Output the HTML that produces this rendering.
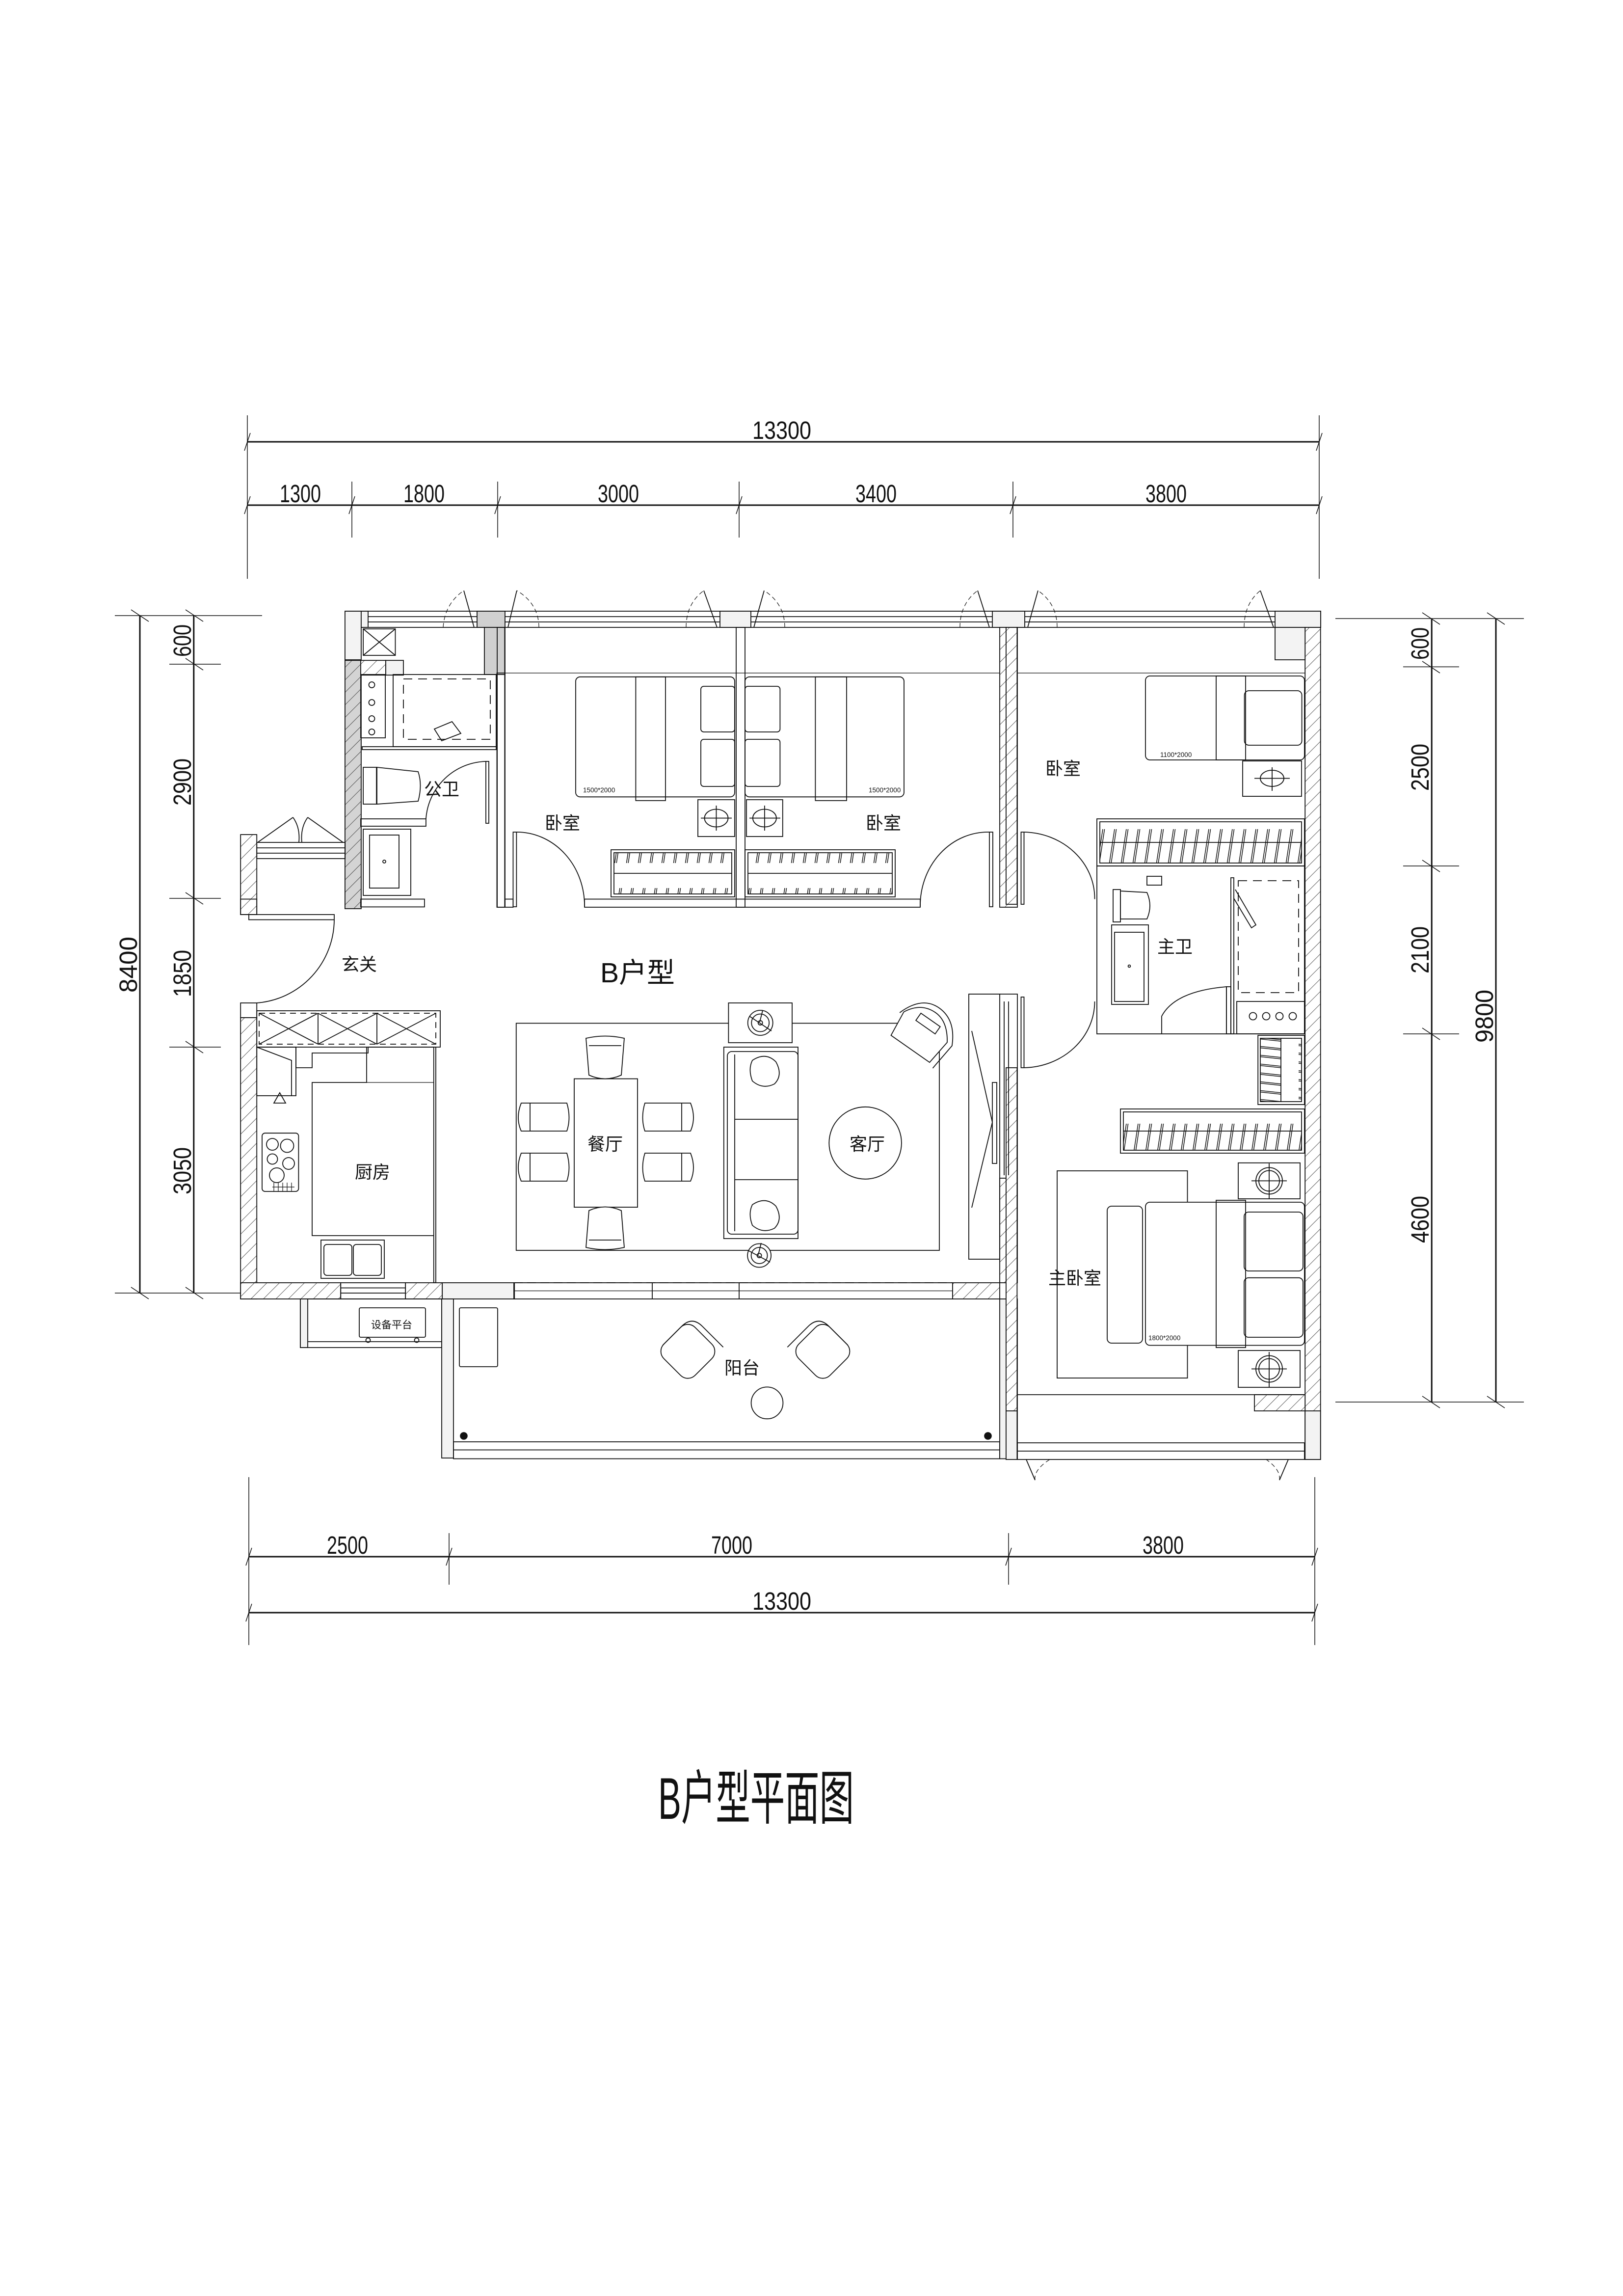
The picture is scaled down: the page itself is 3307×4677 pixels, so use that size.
<!DOCTYPE html>
<html><head><meta charset="utf-8"><style>
html,body{margin:0;padding:0;background:#fff}
svg{display:block}
text{font-family:"Liberation Sans","Noto Sans CJK SC",sans-serif;fill:#111}
</style></head><body>
<svg width="3307" height="4677" viewBox="0 0 1102.33 1559" xmlns="http://www.w3.org/2000/svg">
<defs>
<pattern id="h" patternUnits="userSpaceOnUse" width="6" height="6" patternTransform="rotate(45)">
<rect width="6" height="6" fill="#fff"/><line x1="0" y1="0" x2="0" y2="6" stroke="#222" stroke-width="0.5"/></pattern>
<pattern id="hg" patternUnits="userSpaceOnUse" width="6" height="6" patternTransform="rotate(45)">
<rect width="6" height="6" fill="#d4d4d4"/><line x1="0" y1="0" x2="0" y2="6" stroke="#222" stroke-width="0.5"/></pattern>
<pattern id="hang" patternUnits="userSpaceOnUse" width="8" height="40">
<line x1="1.5" y1="26" x2="5" y2="3" stroke="#111" stroke-width="0.5"/><line x1="2.7" y1="26" x2="6.2" y2="3" stroke="#111" stroke-width="0.5"/></pattern>
<pattern id="hangv" patternUnits="userSpaceOnUse" width="40" height="6">
<line x1="2" y1="1" x2="30" y2="4" stroke="#111" stroke-width="0.5"/><line x1="2" y1="2" x2="30" y2="5" stroke="#111" stroke-width="0.5"/></pattern>
</defs>
<g fill="none" stroke="#111" stroke-width="0.6">

<!-- ===== DIMENSIONS ===== -->
<g stroke-width="0.5">
<line x1="168" y1="300" x2="896" y2="300" stroke-width="1"/>
<line x1="168" y1="343" x2="896" y2="343" stroke-width="1"/>
<line x1="168" y1="282" x2="168" y2="393"/><line x1="896" y1="282" x2="896" y2="393"/>
<line x1="239" y1="327" x2="239" y2="365"/><line x1="338" y1="327" x2="338" y2="365"/>
<line x1="502" y1="327" x2="502" y2="365"/><line x1="688" y1="327" x2="688" y2="365"/>
<path d="M166 306L170 294M894 306L898 294M166 349L170 337M237 349L241 337M336 349L340 337M500 349L504 337M686 349L690 337M894 349L898 337"/>
<line x1="169" y1="1057" x2="893" y2="1057" stroke-width="1"/>
<line x1="169" y1="1095" x2="893" y2="1095" stroke-width="1"/>
<line x1="169" y1="1003" x2="169" y2="1117"/><line x1="893" y1="1003" x2="893" y2="1117"/>
<line x1="305" y1="1041" x2="305" y2="1076"/><line x1="685" y1="1041" x2="685" y2="1076"/>
<path d="M167 1063L171 1051M303 1063L307 1051M683 1063L687 1051M891 1063L895 1051M167 1101L171 1089M891 1101L895 1089"/>
<line x1="95" y1="418" x2="95" y2="878" stroke-width="1"/>
<line x1="131.6" y1="418" x2="131.6" y2="878" stroke-width="1"/>
<line x1="78" y1="418" x2="178" y2="418"/><line x1="78" y1="878" x2="190" y2="878"/>
<line x1="115" y1="451" x2="150" y2="451"/><line x1="115" y1="610" x2="150" y2="610"/><line x1="115" y1="711" x2="150" y2="711"/>
<path d="M89 414L101 422M126 414L138 422M126 447L138 455M126 606L138 614M126 707L138 715M126 874L138 882M89 874L101 882"/>
<line x1="972.4" y1="420" x2="972.4" y2="952" stroke-width="1"/>
<line x1="1016" y1="420" x2="1016" y2="952" stroke-width="1"/>
<line x1="907" y1="420" x2="1035" y2="420"/><line x1="907" y1="952" x2="1035" y2="952"/>
<line x1="953" y1="452.8" x2="991" y2="452.8"/><line x1="953" y1="588" x2="991" y2="588"/><line x1="953" y1="702" x2="991" y2="702"/>
<path d="M966 416L978 424M966 449L978 457M966 584L978 592M966 698L978 706M966 948L978 956M1010 416L1022 424M1010 948L1022 956"/>
</g>
<g stroke="none" font-size="17" style="fill:#333">
<text x="531" y="298" text-anchor="middle" textLength="40" lengthAdjust="spacingAndGlyphs">13300</text>
<text x="204" y="341" text-anchor="middle" textLength="28" lengthAdjust="spacingAndGlyphs">1300</text>
<text x="288" y="341" text-anchor="middle" textLength="28" lengthAdjust="spacingAndGlyphs">1800</text>
<text x="420" y="341" text-anchor="middle" textLength="28" lengthAdjust="spacingAndGlyphs">3000</text>
<text x="595" y="341" text-anchor="middle" textLength="28" lengthAdjust="spacingAndGlyphs">3400</text>
<text x="792" y="341" text-anchor="middle" textLength="28" lengthAdjust="spacingAndGlyphs">3800</text>
<text x="236" y="1055" text-anchor="middle" textLength="28" lengthAdjust="spacingAndGlyphs">2500</text>
<text x="497" y="1055" text-anchor="middle" textLength="28" lengthAdjust="spacingAndGlyphs">7000</text>
<text x="790" y="1055" text-anchor="middle" textLength="28" lengthAdjust="spacingAndGlyphs">3800</text>
<text x="531" y="1093" text-anchor="middle" textLength="40" lengthAdjust="spacingAndGlyphs">13300</text>
<text transform="translate(93,655) rotate(-90)" text-anchor="middle" textLength="38" lengthAdjust="spacingAndGlyphs">8400</text>
<text transform="translate(129.6,435) rotate(-90)" text-anchor="middle" textLength="22" lengthAdjust="spacingAndGlyphs">600</text>
<text transform="translate(129.6,531) rotate(-90)" text-anchor="middle" textLength="32" lengthAdjust="spacingAndGlyphs">2900</text>
<text transform="translate(129.6,661) rotate(-90)" text-anchor="middle" textLength="32" lengthAdjust="spacingAndGlyphs">1850</text>
<text transform="translate(129.6,795) rotate(-90)" text-anchor="middle" textLength="32" lengthAdjust="spacingAndGlyphs">3050</text>
<text transform="translate(970.4,437) rotate(-90)" text-anchor="middle" textLength="22" lengthAdjust="spacingAndGlyphs">600</text>
<text transform="translate(970.4,521) rotate(-90)" text-anchor="middle" textLength="32" lengthAdjust="spacingAndGlyphs">2500</text>
<text transform="translate(970.4,645) rotate(-90)" text-anchor="middle" textLength="32" lengthAdjust="spacingAndGlyphs">2100</text>
<text transform="translate(970.4,828) rotate(-90)" text-anchor="middle" textLength="32" lengthAdjust="spacingAndGlyphs">4600</text>
<text transform="translate(1014,690) rotate(-90)" text-anchor="middle" textLength="36" lengthAdjust="spacingAndGlyphs">9800</text>
</g>

<!-- ===== WALLS ===== -->
<rect x="235" y="415" width="662" height="11"/>
<line x1="250" y1="418.7" x2="866" y2="418.7"/><line x1="250" y1="422.3" x2="866" y2="422.3"/>
<rect x="235" y="415" width="15" height="11" fill="#f3f3f3"/>
<rect x="324" y="415" width="19" height="11" fill="#d0d0d0"/>
<rect x="489" y="415" width="21" height="11" fill="#f3f3f3"/>
<rect x="674" y="415" width="22" height="11" fill="#f3f3f3"/>
<rect x="866" y="415" width="31" height="11" fill="#f3f3f3"/>
<path d="M322 426L315 401M345 426L351 401M487 426L478 401M512 426L519 401M672 426L664 401M698 426L705 401M865 426L856 401"/>
<path d="M301 426Q302 410 315 401M366 426Q366 410 351 401M466 426Q466 410 478 401M533 426Q533 410 519 401M652 426Q652 410 664 401M718 426Q718 410 705 401M845 426Q845 410 856 401" stroke-dasharray="3 2" stroke-width="0.4"/>
<rect x="234.3" y="415" width="11" height="33" fill="#f3f3f3"/>
<rect x="234.3" y="448.4" width="11" height="168.6" fill="url(#hg)"/>
<rect x="245" y="448.4" width="17" height="10" fill="url(#h)"/>
<rect x="262" y="448.4" width="12" height="10" fill="#f3f3f3"/>
<rect x="329" y="426" width="14" height="32" fill="#d0d0d0"/>
<line x1="343" y1="457" x2="887" y2="457" stroke-width="0.4"/>
<rect x="246.7" y="427" width="21.8" height="18"/><path d="M246.7 427L268.5 445M268.5 427L246.7 445"/>
<rect x="337.7" y="426" width="5.1" height="190"/>
<rect x="163.4" y="566.7" width="11" height="54.3" fill="url(#h)"/>
<rect x="174.4" y="572" width="60" height="11"/><line x1="174.4" y1="575.7" x2="234.3" y2="575.7"/><line x1="174.4" y1="579.3" x2="234.3" y2="579.3"/>
<path d="M175 572L199 555M233 572L209 555M199 555Q204 562 203 572M209 555Q204 562 205 572"/>
<rect x="163.4" y="610.5" width="11" height="10.5"/>
<rect x="169" y="621" width="58" height="3.5"/>
<path d="M227 624.5A57 57 0 0 1 174.4 681"/>
<rect x="163.4" y="681" width="11" height="10" />
<rect x="163.4" y="691" width="11" height="191" fill="url(#h)"/>
<rect x="163.4" y="871" width="68" height="11" fill="url(#h)"/>
<rect x="231.4" y="871" width="44" height="11"/><line x1="231.4" y1="874.5" x2="275.4" y2="874.5"/><line x1="231.4" y1="878" x2="275.4" y2="878"/>
<rect x="275.4" y="871" width="25" height="11" fill="url(#h)"/>
<rect x="300.4" y="871" width="49" height="11" fill="#f3f3f3"/>
<rect x="349" y="871" width="298" height="11"/>
<line x1="349" y1="871" x2="647" y2="871" stroke-dasharray="6 3"/>
<line x1="349" y1="876.5" x2="647" y2="876.5" stroke-width="0.4"/>
<line x1="443" y1="871" x2="443" y2="882"/><line x1="502" y1="871" x2="502" y2="882"/>
<rect x="647" y="871" width="32" height="11" fill="url(#h)"/>
<rect x="204" y="882" width="96" height="33"/>
<rect x="204" y="882" width="5" height="33" fill="#f3f3f3"/>
<line x1="209" y1="911" x2="300" y2="911"/>
<rect x="244" y="888" width="45" height="20" rx="1"/>
<text x="266" y="902" stroke="none" font-size="7" text-anchor="middle">设备平台</text>
<circle cx="250" cy="910" r="1.5"/><circle cx="283" cy="910" r="1.5"/>
<rect x="300" y="882" width="8" height="108" fill="#f3f3f3"/>
<rect x="308" y="979" width="371" height="11.5"/><line x1="308" y1="984.5" x2="679" y2="984.5"/>
<rect x="679" y="882" width="12" height="108.5" fill="#f3f3f3"/>
<rect x="679" y="800" width="12" height="71" fill="url(#h)"/>
<rect x="312" y="888" width="26" height="40" rx="1"/>
<circle cx="315" cy="975" r="2.3" fill="#111"/><circle cx="671" cy="975" r="2.3" fill="#111"/>
<g transform="translate(470,919) rotate(45)"><rect x="-18" y="-14" width="30" height="30" rx="7"/><path d="M-18 10V-8Q-18 -18 -8 -18H12"/></g>
<g transform="translate(556,919) rotate(-45)"><rect x="-12" y="-14" width="30" height="30" rx="7"/><path d="M18 10V-8Q18 -18 8 -18H-12"/></g>
<circle cx="521" cy="952.6" r="10.8"/>

<rect x="337.5" y="457" width="5.5" height="159"/>
<rect x="343" y="610.5" width="5.5" height="5.5"/>
<rect x="348.5" y="565" width="2.3" height="50.7"/>
<rect x="397" y="610.5" width="228" height="5.5"/>
<rect x="500" y="426" width="6" height="190"/>
<rect x="672" y="565" width="2.3" height="50.7"/>
<rect x="679" y="426" width="12" height="190" fill="url(#h)"/>
<path d="M350.8 565A46 50 0 0 1 397 615.7M672 565A46 50 0 0 0 625 615.7"/>

<rect x="683.3" y="426" width="7.5" height="188" fill="url(#h)"/>
<rect x="683.3" y="725" width="7.5" height="250" fill="url(#h)"/>
<rect x="683.3" y="958" width="7.5" height="33" fill="#f3f3f3"/>
<rect x="693.5" y="565" width="2" height="49"/><rect x="693.5" y="677" width="2" height="48"/>
<path d="M695.5 565A49 45 0 0 1 743.5 610.5M695.5 725A49 45 0 0 0 743.5 680"/>
<rect x="886.4" y="426" width="10.5" height="565" fill="url(#h)"/>
<rect x="866" y="426" width="20.4" height="22" fill="#f3f3f3"/>
<rect x="852" y="947" width="34.4" height="11" fill="url(#h)"/>
<line x1="691" y1="947" x2="886" y2="947"/>
<rect x="691" y="979.7" width="195" height="11.3"/><line x1="691" y1="985.3" x2="886" y2="985.3"/>
<rect x="886.4" y="958" width="10.5" height="33" fill="#f3f3f3"/>
<path d="M697 991L703 1005M875 991L869 1005"/>
<path d="M703 1005Q702 998 713 991M869 1005Q870 998 860 991" stroke-width="0.4" stroke-dasharray="3 2"/>

<!-- A卫 -->
<rect x="245" y="458" width="16.7" height="43"/>
<circle cx="252.5" cy="465" r="2"/><circle cx="252.5" cy="477" r="2"/><circle cx="252.5" cy="488" r="2"/><circle cx="252.5" cy="497" r="2"/>
<rect x="267" y="458" width="70" height="49"/>
<rect x="274" y="461" width="59" height="41" stroke-dasharray="6 4"/>
<path d="M295 495L307 490L313 498L300 503Z"/>
<rect x="246" y="507" width="91" height="2"/>
<rect x="246.7" y="521" width="9" height="25"/><path d="M256 521L284 524Q287 533 284 544L256 546Z"/>
<rect x="245" y="556" width="44.3" height="5"/>
<rect x="330" y="517" width="2" height="42"/>
<path d="M330 517A42 42 0 0 0 289.3 556"/>
<rect x="246.7" y="563" width="32.3" height="45"/><rect x="251" y="567" width="20" height="36"/><circle cx="261" cy="585" r="1"/>
<rect x="245" y="610.5" width="43.3" height="5.3"/>
<text x="300" y="540" stroke="none" font-size="12" text-anchor="middle">公卫</text>

<!-- Bedrooms 1 & 2 -->
<rect x="391" y="459.6" width="108" height="81.5" rx="3"/>
<rect x="431.8" y="459.6" width="20.2" height="84"/>
<rect x="476" y="466" width="23" height="31" rx="2"/><rect x="476" y="502" width="23" height="32" rx="2"/>
<rect x="474" y="543" width="25" height="25"/><ellipse cx="486.5" cy="555.5" rx="8" ry="6"/><path d="M476 555.5H497M486.5 547V564"/>
<rect x="415" y="577" width="84" height="32"/><rect x="417" y="579" width="80" height="28" fill="url(#hang)"/>
<line x1="417" y1="593" x2="497" y2="593"/>
<rect x="506" y="459.6" width="108" height="81.5" rx="3"/>
<rect x="553.8" y="459.6" width="21.2" height="84"/>
<rect x="506" y="466" width="23.8" height="31" rx="2"/><rect x="506" y="502" width="23.8" height="32" rx="2"/>
<rect x="507" y="543" width="24.6" height="25"/><ellipse cx="519.3" cy="555.5" rx="8" ry="6"/><path d="M509 555.5H530M519.3 547V564"/>
<rect x="506" y="577" width="102" height="32"/><rect x="508" y="579" width="98" height="28" fill="url(#hang)"/>
<line x1="508" y1="593" x2="606" y2="593"/>
<g stroke="none"><text x="396" y="538" font-size="4.5">1500*2000</text><text x="590" y="538" font-size="4.5">1500*2000</text>
<text x="382" y="563" font-size="12" text-anchor="middle">卧室</text>
<text x="600" y="563" font-size="12" text-anchor="middle">卧室</text>
<text x="433" y="667" font-size="19" text-anchor="middle">B户型</text></g>

<!-- Bedroom 3 -->
<rect x="778" y="459" width="108" height="57" rx="3"/>
<rect x="826" y="459" width="20" height="57"/>
<rect x="845.2" y="469" width="39" height="37" rx="3"/>
<rect x="844" y="516.7" width="40" height="24"/><ellipse cx="864" cy="528.5" rx="8" ry="5.5"/><path d="M852 528.5H876M864 521V537"/>
<rect x="745" y="556" width="141" height="32"/><rect x="747" y="558" width="137" height="28" fill="url(#hang)"/>
<line x1="747" y1="572" x2="884" y2="572"/>
<g stroke="none"><text x="788" y="514" font-size="4.5">1100*2000</text>
<text x="722" y="526" font-size="12" text-anchor="middle">卧室</text></g>

<!-- 主卫 -->
<rect x="745" y="588" width="141" height="114"/>
<rect x="756" y="604" width="5" height="22"/><path d="M761 605L779 606Q783 615 779 624L761 624Z"/>
<rect x="755" y="628" width="25" height="54"/><rect x="757" y="633" width="20" height="47"/><circle cx="767" cy="656" r="0.8"/>
<rect x="779" y="595" width="10" height="6"/>
<path d="M789 702V690Q798 673 833 670V702"/>
<rect x="833" y="670" width="3" height="32"/>
<rect x="836" y="596" width="2" height="106"/>
<rect x="841" y="598" width="41" height="76" stroke-dasharray="6 4"/>
<path d="M839 604L853 628L850 630L838 610"/>
<rect x="840" y="680" width="46" height="22"/>
<circle cx="851" cy="690" r="2.5"/><circle cx="860" cy="690" r="2.5"/><circle cx="869" cy="690" r="2.5"/><circle cx="878" cy="690" r="2.5"/>
<text x="798" y="647" stroke="none" font-size="12" text-anchor="middle">主卫</text>

<!-- Master bedroom -->
<rect x="854.4" y="703" width="31.6" height="47"/><rect x="856" y="705" width="28" height="43" fill="url(#hangv)"/>
<line x1="870" y1="705" x2="870" y2="748"/>
<rect x="761" y="753" width="125" height="30"/><rect x="763" y="755" width="121" height="26" fill="url(#hang)"/>
<line x1="763" y1="768" x2="884" y2="768"/>
<rect x="718" y="795" width="88.5" height="140.7" fill="#fff"/>
<rect x="752" y="819" width="24" height="93" rx="3" fill="#fff"/>
<rect x="778" y="816.3" width="108" height="97.2" rx="3" fill="#fff"/>
<rect x="826" y="815" width="20" height="100"/>
<rect x="845" y="823" width="40" height="40" rx="3"/><rect x="845" y="867.6" width="40" height="40.4" rx="3"/>
<rect x="841" y="789.6" width="42" height="24.4"/><circle cx="862" cy="801.8" r="9"/><circle cx="862" cy="801.8" r="7"/><path d="M850 801.8H874M862 790V814"/>
<rect x="841" y="917" width="42" height="25"/><circle cx="862" cy="929.5" r="9"/><circle cx="862" cy="929.5" r="7"/><path d="M850 929.5H874M862 918V942"/>
<g stroke="none"><text x="780" y="910" font-size="4.5">1800*2000</text>
<text x="730" y="872" font-size="12" text-anchor="middle">主卧室</text></g>

<!-- Kitchen -->
<rect x="174.4" y="686.3" width="124.6" height="24.7"/>
<rect x="176" y="688" width="120" height="21" stroke-dasharray="4 3"/>
<path d="M176 688L216 709M216 688L176 709M216 688V709M256 688V709M216 688L256 709M256 688L216 709M256 688L296 709M296 688L256 709"/>
<path d="M174.4 711H201V725H212V715H250V711H260"/>
<rect x="174.4" y="711" width="26.6" height="33"/><path d="M174.4 711L198 720V744"/>
<path d="M260 711H294.6V871M294.6 711V871H296V711"/>
<path d="M249 711V735H212V839H294.6"/>
<path d="M249 735H294.6" stroke-width="0.4"/>
<path d="M186 749L190 742L194 749Z"/>
<rect x="178" y="769.4" width="24.8" height="39.6" rx="2"/>
<circle cx="185" cy="777" r="4"/><circle cx="195" cy="778" r="4.5"/><circle cx="185" cy="787" r="3.5"/><circle cx="196" cy="790" r="4"/><circle cx="188" cy="798" r="5"/>
<path d="M185 806H200M186 803V809M189 803V809M192 803V809M195 803V809M198 803V809" stroke-width="0.4"/>
<rect x="218" y="842" width="43" height="26"/><rect x="220" y="845" width="19" height="21" rx="2"/><rect x="240" y="845" width="19" height="21" rx="2"/>
<text x="253" y="800" stroke="none" font-size="12" text-anchor="middle">厨房</text>
<text x="244" y="659" stroke="none" font-size="12" text-anchor="middle">玄关</text>

<!-- Living / dining -->
<rect x="350.6" y="694.8" width="287.4" height="154.2"/>
<rect x="390" y="732.5" width="43" height="87.2" fill="#fff"/>
<g fill="#fff">
<path d="M398 705Q411 702 424 705L422 730Q411 735 400 730Z"/><path d="M400 710H422" />
<path d="M398 847Q411 850 424 847L422 822Q411 817 400 822Z"/><path d="M400 842H422"/>
<path d="M354 749Q350 759 354 768H385Q388 759 385 749Z"/><line x1="360" y1="749" x2="360" y2="768"/>
<path d="M354 783Q350 793 354 802H385Q388 793 385 783Z"/><line x1="360" y1="783" x2="360" y2="802"/>
<path d="M469 749Q473 759 469 768H438Q435 759 438 749Z"/><line x1="463" y1="749" x2="463" y2="768"/>
<path d="M469 783Q473 793 469 802H438Q435 793 438 783Z"/><line x1="463" y1="783" x2="463" y2="802"/>
</g>
<rect x="494.8" y="681" width="43.2" height="27" fill="#fff"/>
<circle cx="516.4" cy="694.5" r="8.5"/><circle cx="516.4" cy="694.5" r="6"/><circle cx="516.4" cy="694.5" r="1.5"/><path d="M509 690L524 700M518 686L516 694"/>
<circle cx="515.7" cy="852.5" r="8" fill="#fff"/><circle cx="515.7" cy="852.5" r="5.5"/><circle cx="515.7" cy="852.5" r="1.5"/><path d="M508 849L523 857M517 844L515 852"/>
<rect x="491.6" y="711" width="50.4" height="130" fill="#fff"/>
<rect x="494" y="714" width="48" height="124" rx="3"/>
<path d="M499 716V836M499 760H542M499 801H542"/>
<path d="M511 720Q520 714 527 721Q532 730 526 736Q518 740 511 734Q508 726 511 720Z"/>
<path d="M511 818Q520 812 527 819Q532 828 526 834Q518 838 511 832Q508 824 511 818Z"/>
<ellipse cx="587.7" cy="776.1" rx="24.6" ry="24.5"/>
<text x="589" y="781" stroke="none" font-size="12" text-anchor="middle">客厅</text>
<text x="411" y="781" stroke="none" font-size="12" text-anchor="middle">餐厅</text>
<g transform="translate(624,704) rotate(35)"><path d="M-16 10L16 10L18 -8Q10 -20 0 -20Q-12 -20 -18 -8Z" fill="#fff"/><path d="M-20 -6Q-14 -24 0 -24Q14 -24 22 -8L20 12" /><path d="M-8 -14H8V-8H-8Z"/></g>
<rect x="658" y="675" width="21" height="180"/>
<path d="M679 675H691V800"/><path d="M682 680V798M685 680V798"/>
<path d="M660 700L674 762L660 820M674 735H677V790H674Z"/>
<text x="504" y="933" stroke="none" font-size="12" text-anchor="middle">阳台</text>
</g>

<text x="447" y="1235" font-size="40" textLength="133" lengthAdjust="spacingAndGlyphs">B户型平面图</text>
</svg>
</body></html>
